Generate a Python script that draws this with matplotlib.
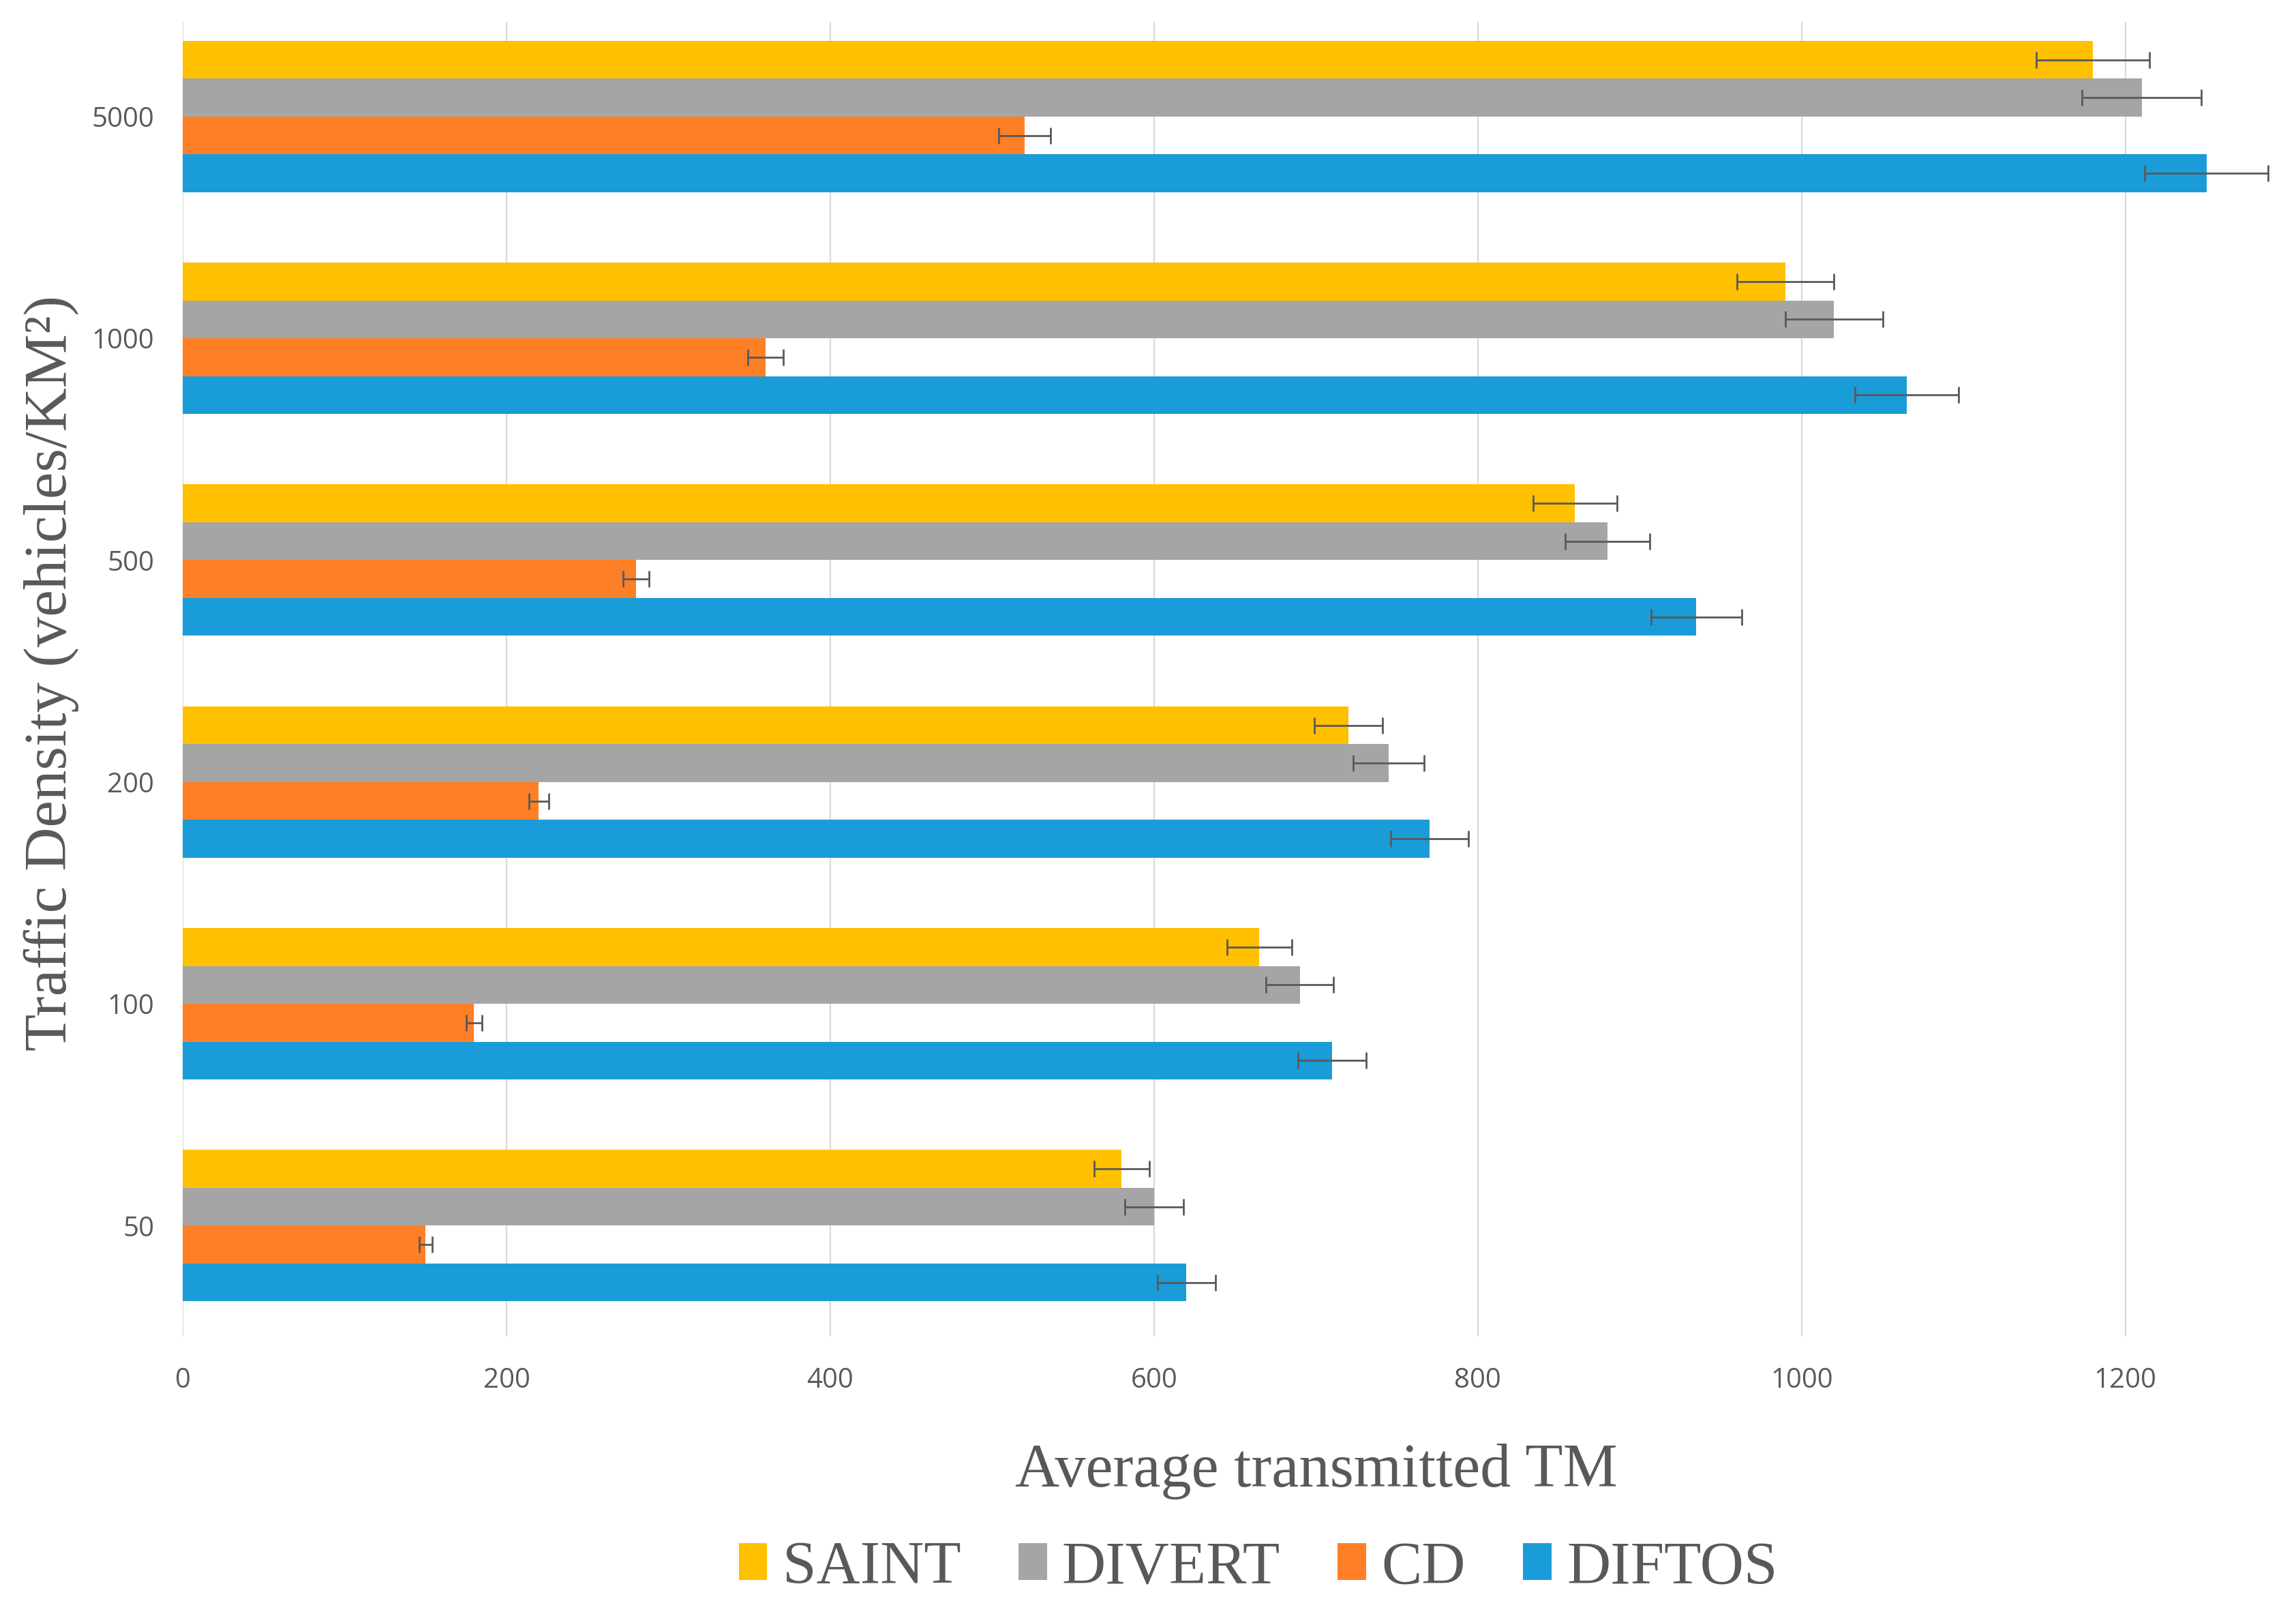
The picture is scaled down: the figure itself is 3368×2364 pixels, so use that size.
import matplotlib.pyplot as plt
import numpy as np
from matplotlib.patches import Patch

# traffic densities, bottom to top as drawn
densities = ['50', '100', '200', '500', '1000', '5000']

saint = [580, 665, 720, 860, 990, 1180]
divert = [600, 690, 745, 880, 1020, 1210]
cd = [150, 180, 220, 280, 360, 520]
diftos = [620, 710, 770, 935, 1065, 1250]

saint_err = [17, 20, 21, 26, 30, 35]
divert_err = [18, 21, 22, 26, 30, 37]
cd_err = [4, 5, 6, 8, 11, 16]
diftos_err = [18, 21, 24, 28, 32, 38]

series = ['SAINT', 'DIVERT', 'CD', 'DIFTOS']
colors = ['#FFC000', '#A5A5A5', '#FF7F27', '#1A9CD8']
txt = '#595959'

fig = plt.figure(figsize=(16.84, 11.82), dpi=200)
ax = fig.add_axes([268 / 3368, 1 - 1960 / 2364, (3360 - 268) / 3368, (1960 - 32) / 2364])

y = np.arange(len(densities))
h = 0.1706
offsets = [1.5 * h, 0.5 * h, -0.5 * h, -1.5 * h]
vals = [saint, divert, cd, diftos]
errs = [saint_err, divert_err, cd_err, diftos_err]

for v, e, c, off in zip(vals, errs, colors, offsets):
    ax.barh(y + off, v, height=h, color=c, xerr=e, zorder=2,
            error_kw=dict(ecolor=txt, elinewidth=1.0, capsize=4.3, capthick=1.0))

ax.set_xlim(0, 1302)
ax.set_ylim(-0.5, 5.427)
ax.set_xticks(range(0, 1201, 200))
ax.set_yticks(y)
ax.set_yticklabels(densities)
ax.grid(axis='x', color='#D9D9D9', linewidth=0.8, zorder=0)
ax.set_axisbelow(True)
for s in ax.spines.values():
    s.set_visible(False)
ax.tick_params(axis='both', length=0, labelsize=14.5, labelcolor=txt)
ax.tick_params(axis='x', pad=16)
ax.tick_params(axis='y', pad=15)
for lab in ax.get_xticklabels() + ax.get_yticklabels():
    lab.set_family('Open Sans')

fig.text(1931 / 3368, 1 - 2180 / 2364, 'Average transmitted TM', ha='center', va='baseline',
         fontsize=32.5, color=txt, family='Liberation Serif')
fig.text(0.0223, 1 - 987 / 2364, 'Traffic Density (vehicles/KM²)', ha='center', va='center',
         rotation=90, fontsize=32, color=txt, family='Liberation Serif')

handles = [Patch(facecolor=c, edgecolor='none') for c in colors]
leg = fig.legend(handles, series, loc='center', bbox_to_anchor=(0.548, 1 - 2300 / 2364), ncol=4,
                 frameon=False, handlelength=0.47, handleheight=0.55, handletextpad=0.25,
                 columnspacing=0.95, prop={'family': 'Liberation Serif', 'size': 32})
for t in leg.get_texts():
    t.set_color(txt)

fig.savefig('out.png', dpi=200)
